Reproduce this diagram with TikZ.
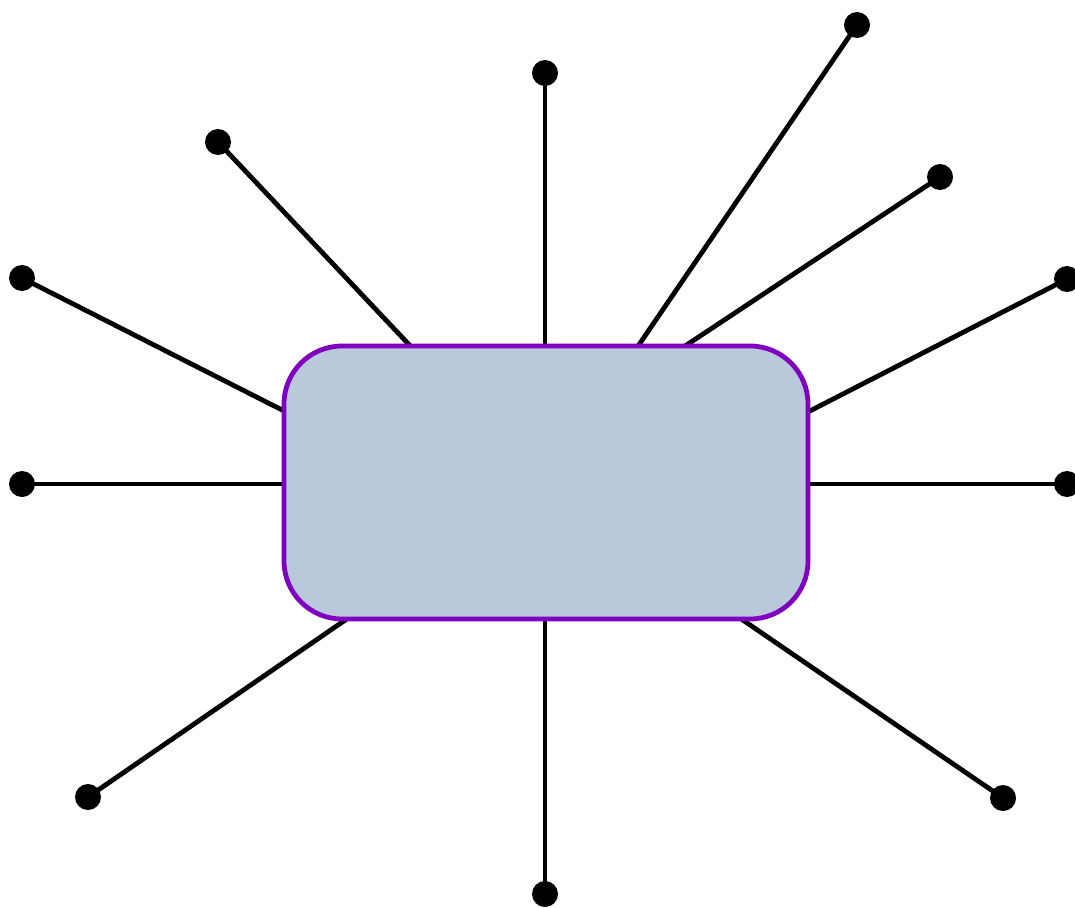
\documentclass[tikz,border=0pt]{standalone}
\definecolor{boxfill}{RGB}{186,200,220}
\definecolor{boxedge}{RGB}{128,0,192}
\begin{document}
\begin{tikzpicture}[x=1pt,y=-1pt,
  dot/.style={circle,fill=black,inner sep=0pt,minimum size=26pt},
  link/.style={line width=4.8pt,black},
  hub/.style={draw=boxedge,line width=4.8pt,fill=boxfill,rounded corners=58pt}]
\useasboundingbox (0,0) rectangle (1075,907);
% dots
\node[dot] (d1) at (22,278) {};
\node[dot] (d2) at (22,484) {};
\node[dot] (d3) at (218,142) {};
\node[dot] (d4) at (545,73) {};
\node[dot] (d5) at (857,25) {};
\node[dot] (d6) at (940,177) {};
\node[dot] (d7) at (1067,279) {};
\node[dot] (d8) at (1067,484) {};
\node[dot] (d9) at (1003,798) {};
\node[dot] (d10) at (545,894) {};
\node[dot] (d11) at (88,797) {};
% attachment points on the box border
\coordinate (e1) at (290,414);
\coordinate (e2) at (290,484);
\coordinate (e3) at (416,352);
\coordinate (e4) at (545,352);
\coordinate (e5) at (634,352);
\coordinate (e6) at (676,352);
\coordinate (e7) at (802,415);
\coordinate (e8) at (802,484);
\coordinate (e9) at (734,614);
\coordinate (e10) at (545,614);
\coordinate (e11) at (354,614);
\foreach \i in {1,...,11} {\draw[link] (d\i.center) -- (e\i);}
% box
\draw[hub] (284,346) rectangle (808,619);
\end{tikzpicture}
\end{document}
